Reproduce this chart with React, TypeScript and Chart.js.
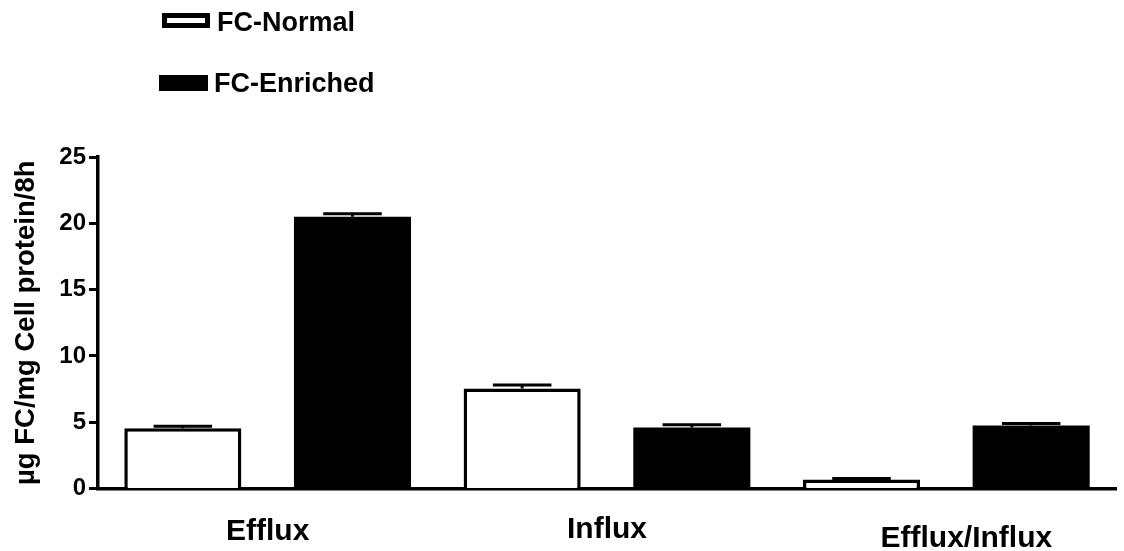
import React, { useEffect, useRef } from "react";
import { Chart, registerables } from "chart.js";

Chart.register(...registerables);

const categories = ["Efflux", "Influx", "Efflux/Influx"];
const seriesNames = ["FC-Normal", "FC-Enriched"];
const normalValues = [4.55, 7.55, 0.68];
const normalErrors = [0.15, 0.25, 0.08];
const enrichedValues = [20.5, 4.6, 4.75];
const enrichedErrors = [0.22, 0.2, 0.15];
const yTicks = [0, 5, 10, 15, 20, 25];
const yTitle = "\u00b5g FC/mg Cell protein/8h";

// styling (not data)
const FONT = "'Liberation Sans', Arial, Helvetica, sans-serif";
const labelDx = [0, 0, 20];
const labelBaseline = [540, 538, 547];

const errorBarPlugin = {
  id: "errorBars",
  afterDatasetsDraw(chart: any) {
    const ctx = chart.ctx;
    const yScale = chart.scales.y;
    chart.data.datasets.forEach((ds: any, di: number) => {
      const meta = chart.getDatasetMeta(di);
      const errs = ds.errors || [];
      meta.data.forEach((bar: any, i: number) => {
        const v = ds.data[i];
        const e = errs[i] || 0;
        const yTop = yScale.getPixelForValue(v + e);
        const yVal = yScale.getPixelForValue(v);
        const half = bar.width * 0.25;
        ctx.save();
        ctx.strokeStyle = "#000";
        ctx.lineWidth = 3;
        ctx.beginPath();
        ctx.moveTo(bar.x, yVal);
        ctx.lineTo(bar.x, yTop);
        ctx.moveTo(bar.x - half, yTop);
        ctx.lineTo(bar.x + half, yTop);
        ctx.stroke();
        ctx.restore();
      });
    });
  },
};

const xLabelPlugin = {
  id: "xLabels",
  afterDraw(chart: any) {
    const ctx = chart.ctx;
    const xScale = chart.scales.x;
    ctx.save();
    ctx.fillStyle = "#000";
    ctx.font = `bold 30px ${FONT}`;
    ctx.textAlign = "center";
    ctx.textBaseline = "alphabetic";
    chart.data.labels.forEach((lab: string, i: number) => {
      const x = xScale.getPixelForValue(i) + labelDx[i];
      ctx.fillText(lab, x, labelBaseline[i]);
    });
    ctx.restore();
  },
};

const legendPlugin = {
  id: "customLegend",
  afterDraw(chart: any) {
    const ctx = chart.ctx;
    ctx.save();
    ctx.font = `bold 27px ${FONT}`;
    ctx.textBaseline = "alphabetic";
    ctx.textAlign = "left";
    ctx.fillStyle = "#000";
    const items = [
      { box: [162, 13, 48, 15], filled: false, tx: 217, ty: 31 },
      { box: [159, 75, 49, 16], filled: true, tx: 214, ty: 92 },
    ];
    chart.data.datasets.forEach((ds: any, i: number) => {
      const it = items[i];
      const [bx, by, bw, bh] = it.box;
      if (it.filled) {
        ctx.fillStyle = "#000";
        ctx.fillRect(bx, by, bw, bh);
      } else {
        ctx.fillStyle = "#fff";
        ctx.fillRect(bx, by, bw, bh);
        ctx.strokeStyle = "#000";
        ctx.lineWidth = 5;
        ctx.strokeRect(bx + 2.5, by + 2.5, bw - 5, bh - 5);
      }
      ctx.fillStyle = "#000";
      ctx.fillText(ds.label, it.tx, it.ty);
    });
    ctx.restore();
  },
};

export default function App() {
  const canvasRef = useRef<HTMLCanvasElement | null>(null);

  useEffect(() => {
    const canvas = canvasRef.current;
    if (!canvas) return;
    const chart = new Chart(canvas, {
      type: "bar",
      data: {
        labels: categories,
        datasets: [
          {
            label: seriesNames[0],
            data: normalValues,
            errors: normalErrors,
            backgroundColor: "#ffffff",
            borderColor: "#000000",
            borderWidth: 3.5,
            categoryPercentage: 1.0,
            barPercentage: 0.69,
          } as any,
          {
            label: seriesNames[1],
            data: enrichedValues,
            errors: enrichedErrors,
            backgroundColor: "#000000",
            borderColor: "#000000",
            borderWidth: 0,
            categoryPercentage: 1.0,
            barPercentage: 0.69,
          } as any,
        ],
      },
      options: {
        responsive: false,
        animation: false,
        layout: { padding: { top: 157, left: 0, right: 8, bottom: 0 } },
        plugins: {
          legend: { display: false },
          tooltip: { enabled: false },
        },
        scales: {
          x: {
            grid: { display: false },
            border: { display: true, color: "#000", width: 3.5 },
            ticks: { display: false },
            afterFit: (scale: any) => {
              scale.height = 62.5;
            },
          },
          y: {
            min: 0,
            max: 25,
            afterBuildTicks: (scale: any) => {
              scale.ticks = yTicks.map((v) => ({ value: v }));
            },
            grid: {
              display: true,
              drawOnChartArea: false,
              drawTicks: true,
              tickLength: 9,
              tickWidth: 3,
              tickColor: "#000",
            },
            border: { display: true, color: "#000", width: 3.5 },
            ticks: {
              color: "#000",
              font: { family: FONT, size: 24, weight: "bold" },
              padding: 3,
            },
            title: {
              display: true,
              text: yTitle,
              color: "#000",
              font: { family: FONT, size: 27.5, weight: "bold" },
              padding: { top: 10, bottom: 0 },
            },
            afterFit: (scale: any) => {
              scale.width = 98;
            },
          },
        },
      } as any,
      plugins: [errorBarPlugin, xLabelPlugin, legendPlugin],
    });
    return () => chart.destroy();
  }, []);

  return (
    <div style={{ position: "fixed", left: 0, top: 0, width: 1124, height: 551, background: "#fff" }}>
      <canvas ref={canvasRef} width={1124} height={551} style={{ display: "block" }} />
    </div>
  );
}
